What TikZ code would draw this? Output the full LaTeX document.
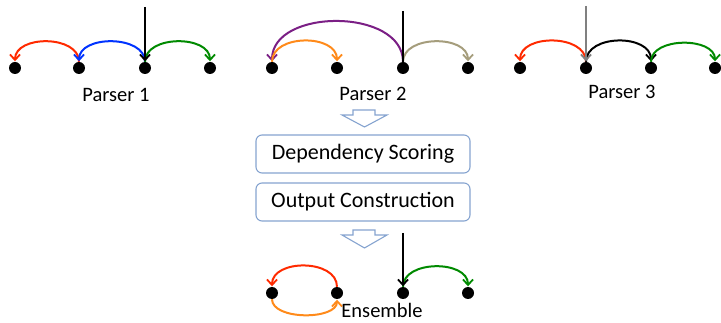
\documentclass[tikz,border=0pt]{standalone}
\usepackage{fontspec}
\setmainfont{Carlito}
\usetikzlibrary{arrows.meta}
\definecolor{depred}{HTML}{FF2A00}
\definecolor{depblue}{HTML}{0033FF}
\definecolor{depgreen}{HTML}{008A00}
\definecolor{deppurple}{HTML}{7B1F85}
\definecolor{deporange}{HTML}{FF8A1A}
\definecolor{deptan}{HTML}{A59D7C}
\definecolor{depgray}{HTML}{808080}
\definecolor{boxline}{HTML}{86A4D0}
\begin{document}
\begin{tikzpicture}[x=1pt,y=-1pt,
  tok/.style={circle,fill=black,inner sep=0pt,minimum size=12pt},
  dep/.style={line width=2pt,-{Straight Barb[length=5.5pt,width=10pt,line width=1.8pt]},shorten >=0.5pt},
  rootline/.style={line width=2pt},
  label/.style={font=\fontsize{20.5}{24}\selectfont,anchor=base,inner sep=0pt},
  stage/.style={draw=boxline,line width=1.1pt,rounded corners=6pt,fill=white,
    minimum width=214pt,minimum height=38pt,inner sep=0pt,
    font=\fontsize{22}{26}\selectfont},
  flow/.style={draw=boxline,line width=1.1pt,fill=white,line join=miter}]
\useasboundingbox (0,0) rectangle (721,323);

% ---- Parser 1 ----
\node[tok] (a1) at (15,68) {};
\node[tok] (a2) at (79,68) {};
\node[tok] (a3) at (145,68) {};
\node[tok] (a4) at (210,68) {};
\coordinate (ar) at (145,7);
\draw[dep,depred] (a2.north) .. controls +(0,-27) and +(0,-27) .. (a1.north);
\draw[dep,depblue] (a3.north) .. controls +(0,-27) and +(0,-27) .. (a2.north);
\draw[dep,depgreen] (a3.north) .. controls +(0,-27) and +(0,-27) .. (a4.north);
\draw[dep,black] (ar) -- (a3.north);
\node[label] (l1) at (116,102) {Parser 1};

% ---- Parser 2 ----
\node[tok] (b1) at (272,68) {};
\node[tok] (b2) at (337,68) {};
\node[tok] (b3) at (403,68) {};
\node[tok] (b4) at (468,68) {};
\coordinate (br) at (403,11);
\draw[dep,deppurple] (b3.north) .. controls +(0,-54) and +(0,-54) .. (b1.north);
\draw[dep,deporange] (b1.north) .. controls +(0,-28) and +(0,-28) .. (b2.north);
\draw[dep,deptan] (b3.north) .. controls +(0,-27) and +(0,-27) .. (b4.north);
\draw[rootline,black] (br) -- (b3.north);
\node[label] (l2) at (373,101) {Parser 2};

% ---- Parser 3 ----
\node[tok] (c1) at (520,68) {};
\node[tok] (c2) at (586,68) {};
\node[tok] (c3) at (651,68) {};
\node[tok] (c4) at (715,68) {};
\coordinate (cr) at (586,6);
\draw[dep,depred] (c2.north) .. controls +(0,-28) and +(0,-28) .. (c1.north);
\draw[dep,black] (c2.north) .. controls +(0,-28) and +(0,-28) .. (c3.north);
\draw[dep,depgreen] (c3.north) .. controls +(0,-25) and +(0,-25) .. (c4.north);
\draw[dep,depgray] (cr) -- (c2.north);
\node[label] (l3) at (622,99) {Parser 3};

% ---- combination steps ----
\draw[flow] (353,110) -- (375,110) -- (375,115) -- (387,115) -- (364.5,127)
  -- (342,115) -- (353,115) -- cycle;
\node[stage] (score) at (363,154) {Dependency Scoring};
\node[stage] (build) at (363,202) {Output Construction};
\draw[flow] (353,230) -- (375,230) -- (375,235) -- (387,235) -- (364.5,248)
  -- (342,235) -- (353,235) -- cycle;

% ---- Ensemble ----
\node[tok] (e1) at (272,293) {};
\node[tok] (e2) at (337,293) {};
\node[tok] (e3) at (403,293) {};
\node[tok] (e4) at (468,293) {};
\coordinate (er) at (403,233);
\draw[dep,depred] (e2.north) .. controls +(0,-28) and +(0,-28) .. (e1.north);
\draw[dep,deporange] (e1.south) .. controls +(0,21) and +(0,21) .. (e2.south);
\draw[dep,depgreen] (e3.north) .. controls +(0,-27) and +(0,-27) .. (e4.north);
\draw[dep,black] (er) -- (e3.north);
\node[label] (le) at (382,317.5) {Ensemble};
\end{tikzpicture}
\end{document}
